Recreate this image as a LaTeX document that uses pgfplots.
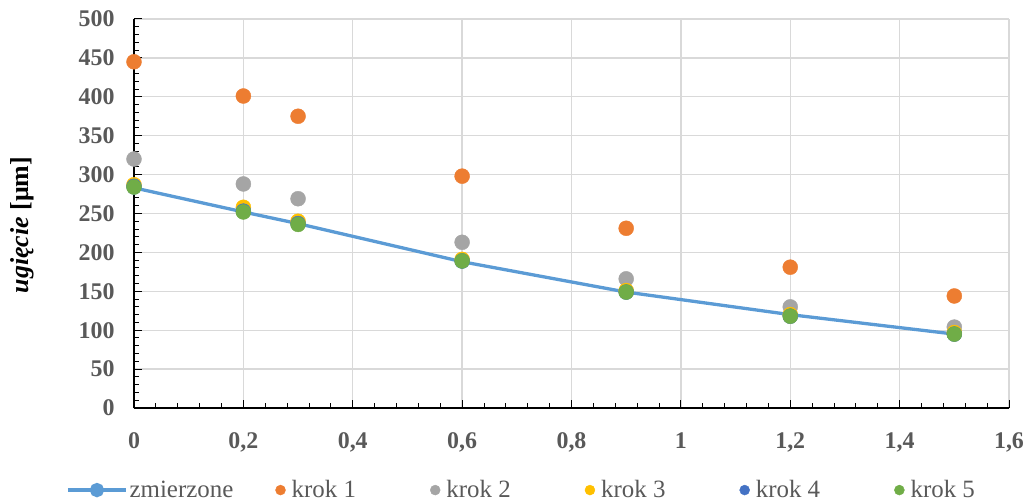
\documentclass[border=0pt]{standalone}
\usepackage{fontspec}
\setmainfont{Liberation Serif}
\usepackage{pgfplots}
\pgfplotsset{compat=1.18}
\definecolor{cLine}{HTML}{5B9BD5}
\definecolor{cOr}{HTML}{ED7D31}
\definecolor{cGr}{HTML}{A5A5A5}
\definecolor{cYe}{HTML}{FFC000}
\definecolor{cBl}{HTML}{4472C4}
\definecolor{cGn}{HTML}{70AD47}
\definecolor{txt}{HTML}{595959}
\definecolor{grd}{HTML}{D9D9D9}
\begin{document}
\begin{tikzpicture}
\begin{axis}[
  name=ax,
  scale only axis,
  width=875bp, height=389bp,
  xmin=0, xmax=1.6, ymin=0, ymax=500,
  xtick={0,0.2,...,1.6}, ytick={0,50,...,500},
  minor x tick num=4, minor y tick num=4,
  axis x line*=bottom, axis y line*=left,
  axis line style={black, line width=1.1bp, -},
  tick align=inside,
  major tick length=8bp, minor tick length=5bp,
  tick style={black, line width=1bp},
  grid=major,
  major grid style={grd, line width=1.3bp},
  /pgf/number format/.cd, fixed, use comma, precision=1, assume math mode=true,
  /pgfplots/.cd,
  ticklabel style={font=\bfseries\fontsize{24}{26}\selectfont, text=txt},
  xticklabel style={yshift=-21bp},
  yticklabel style={xshift=-16bp},
  ylabel={\textbf{\textit{ugięcie}} \textbf{[μm]}},
  ylabel style={at={(axis description cs:-0.128,0.47)}, anchor=center, font=\fontsize{26}{28}\selectfont},
  legend columns=6,
  legend style={at={(0.443,-0.211)}, anchor=center, draw=none, fill=none,
    font=\fontsize{25}{27}\selectfont, text=txt,
    /tikz/every even column/.append style={column sep=72bp}},
  legend cell align=left,
]
\addplot[cLine, line width=3.3bp, mark=*, mark size=5.5bp, mark options={fill=cLine, draw=cLine},
  legend image code/.code={\draw[cLine, line width=3.3bp] (0bp,0bp) -- (58bp,0bp); \fill[cLine] (29bp,0bp) circle (5.5bp);}]
  coordinates {(0,283) (0.2,252) (0.3,237) (0.6,188) (0.9,149) (1.2,120) (1.5,95)};
\addlegendentry{zmierzone\hspace*{-32bp}}
\addplot[only marks, mark=*, mark size=7.5bp, mark options={fill=cOr, draw=cOr},
  legend image code/.code={\fill[cOr] (0bp,0bp) circle (5bp); \path (9bp,0bp);}]
  coordinates {(0,445) (0.2,401) (0.3,375) (0.6,298) (0.9,231) (1.2,181) (1.5,144)};
\addlegendentry{krok 1}
\addplot[only marks, mark=*, mark size=7.5bp, mark options={fill=cGr, draw=cGr},
  legend image code/.code={\fill[cGr] (0bp,0bp) circle (5bp); \path (9bp,0bp);}]
  coordinates {(0,320) (0.2,288) (0.3,269) (0.6,213) (0.9,166) (1.2,130) (1.5,104)};
\addlegendentry{krok 2}
\addplot[only marks, mark=*, mark size=7.5bp, mark options={fill=cYe, draw=cYe},
  legend image code/.code={\fill[cYe] (0bp,0bp) circle (5bp); \path (9bp,0bp);}]
  coordinates {(0,287) (0.2,258) (0.3,240) (0.6,191) (0.9,151) (1.2,120) (1.5,97)};
\addlegendentry{krok 3}
\addplot[only marks, mark=*, mark size=7.5bp, mark options={fill=cBl, draw=cBl},
  legend image code/.code={\fill[cBl] (0bp,0bp) circle (5bp); \path (9bp,0bp);}]
  coordinates {(0,285) (0.2,253) (0.3,237) (0.6,189) (0.9,149) (1.2,118) (1.5,95)};
\addlegendentry{krok 4}
\addplot[only marks, mark=*, mark size=7.5bp, mark options={fill=cGn, draw=cGn},
  legend image code/.code={\fill[cGn] (0bp,0bp) circle (5bp); \path (9bp,0bp);}]
  coordinates {(0,284) (0.2,252) (0.3,236) (0.6,189) (0.9,149) (1.2,118) (1.5,95)};
\addlegendentry{krok 5}
\end{axis}
\pgfresetboundingbox
\useasboundingbox ([shift={(-134bp,-95bp)}]ax.south west) rectangle ([shift={(22bp,19bp)}]ax.north east);
\end{tikzpicture}
\end{document}
